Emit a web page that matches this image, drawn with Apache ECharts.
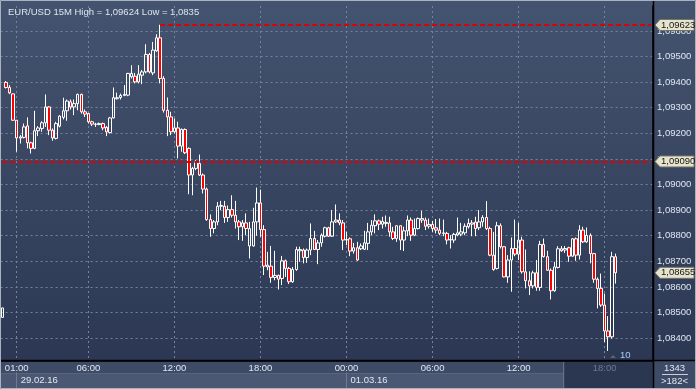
<!DOCTYPE html>
<html><head><meta charset="utf-8">
<script src="https://cdn.jsdelivr.net/npm/echarts@6/dist/echarts.min.js"></script>
<style>html,body{margin:0;padding:0;background:#34425e;}#c{width:696px;height:389px;}</style>
</head><body><div id="c"></div>
<script>
// ---------- data ----------
const chartTitle = 'EUR/USD 15M High = 1,09624 Low = 1,0835';
const startUTC = Date.UTC(2016, 1, 29, 0, 0);   // first bar: 29.02.16 00:00
const barMinutes = 15;
const visibleBars = 182;
const timeTicks = ['29.02 01:00','29.02 06:00','29.02 12:00','29.02 18:00','01.03 00:00','01.03 06:00','01.03 12:00','01.03 18:00'];
const dateTicks = ['29.02 01:00','01.03 00:00'];
const dateTickLabels = ['29.02.16','01.03.16'];
const dimTick = '01.03 18:00';
const highLineFrom = '29.02 11:00';
const highLineValue = 1.09623;
const levelLineValue = 1.09090;
const lastPrice = 1.08655;
const barsTotal = 1343;
const barsVisibleText = '>182<';
const cursorText = '10';

const opens = [1.08481,1.09399,1.09379,1.09354,1.09251,1.09181,1.09184,1.09229,1.09163,1.09141,
1.09210,1.09219,1.09241,1.09303,1.09212,1.09180,1.09228,1.09262,1.09288,1.09323,
1.09303,1.09316,1.09352,1.09284,1.09277,1.09245,1.09236,1.09234,1.09238,1.09223,
1.09203,1.09260,1.09335,1.09340,1.09348,1.09349,1.09421,1.09423,1.09401,1.09427,
1.09440,1.09508,1.09436,1.09522,1.09573,1.09414,1.09290,1.09264,1.09206,1.09221,
1.09150,1.09215,1.09141,1.09037,1.09063,1.09082,1.09037,1.08982,1.08863,1.08828,
1.08854,1.08915,1.08915,1.08871,1.08902,1.08880,1.08854,1.08835,1.08850,1.08760,
1.08760,1.08854,1.08928,1.08824,1.08678,1.08681,1.08637,1.08645,1.08633,1.08702,
1.08672,1.08620,1.08668,1.08741,1.08744,1.08715,1.08744,1.08789,1.08746,1.08772,
1.08798,1.08831,1.08798,1.08854,1.08861,1.08850,1.08783,1.08788,1.08740,1.08753,
1.08749,1.08747,1.08770,1.08815,1.08839,1.08858,1.08845,1.08848,1.08850,1.08815,
1.08789,1.08839,1.08783,1.08819,1.08861,1.08802,1.08828,1.08867,1.08861,1.08837,
1.08844,1.08831,1.08822,1.08809,1.08809,1.08783,1.08783,1.08803,1.08806,1.08811,
1.08835,1.08845,1.08853,1.08831,1.08854,1.08871,1.08828,1.08724,1.08672,1.08839,
1.08757,1.08639,1.08705,1.08750,1.08728,1.08783,1.08659,1.08624,1.08604,1.08655,
1.08598,1.08766,1.08718,1.08665,1.08585,1.08676,1.08749,1.08744,1.08753,1.08720,
1.08788,1.08724,1.08822,1.08776,1.08801,1.08730,1.08630,1.08594,1.08529,1.08428,
1.08405,1.08718];
const closes = [1.08518,1.09379,1.09358,1.09251,1.09182,1.09186,1.09225,1.09163,1.09141,1.09210,
1.09221,1.09241,1.09303,1.09212,1.09182,1.09238,1.09267,1.09288,1.09326,1.09303,
1.09316,1.09352,1.09284,1.09275,1.09245,1.09236,1.09235,1.09238,1.09221,1.09206,
1.09260,1.09339,1.09339,1.09348,1.09352,1.09434,1.09434,1.09401,1.09431,1.09440,
1.09508,1.09440,1.09525,1.09573,1.09414,1.09290,1.09264,1.09206,1.09221,1.09150,
1.09215,1.09124,1.09037,1.09063,1.09089,1.09037,1.08982,1.08863,1.08828,1.08854,
1.08915,1.08918,1.08871,1.08902,1.08880,1.08854,1.08835,1.08850,1.08828,1.08828,
1.08854,1.08928,1.08824,1.08681,1.08685,1.08637,1.08645,1.08630,1.08702,1.08672,
1.08620,1.08668,1.08746,1.08746,1.08715,1.08744,1.08789,1.08746,1.08772,1.08802,
1.08831,1.08798,1.08854,1.08861,1.08850,1.08783,1.08785,1.08740,1.08753,1.08705,
1.08760,1.08772,1.08815,1.08841,1.08858,1.08845,1.08856,1.08852,1.08815,1.08789,
1.08839,1.08783,1.08819,1.08861,1.08802,1.08828,1.08867,1.08861,1.08837,1.08844,
1.08828,1.08822,1.08809,1.08811,1.08783,1.08785,1.08805,1.08811,1.08815,1.08837,
1.08848,1.08850,1.08828,1.08854,1.08871,1.08828,1.08724,1.08668,1.08839,1.08757,
1.08639,1.08705,1.08750,1.08728,1.08783,1.08659,1.08624,1.08604,1.08655,1.08598,
1.08766,1.08718,1.08665,1.08585,1.08678,1.08749,1.08741,1.08750,1.08720,1.08788,
1.08724,1.08822,1.08776,1.08801,1.08730,1.08630,1.08594,1.08529,1.08428,1.08405,
1.08718,1.08655];
const lows = [1.08481,1.09375,1.09353,1.09249,1.09128,1.09160,1.09180,1.09141,1.09121,1.09138,
1.09189,1.09206,1.09225,1.09193,1.09171,1.09176,1.09223,1.09254,1.09249,1.09293,
1.09271,1.09290,1.09277,1.09264,1.09238,1.09228,1.09225,1.09232,1.09212,1.09189,
1.09199,1.09258,1.09332,1.09332,1.09345,1.09345,1.09414,1.09395,1.09395,1.09392,
1.09434,1.09434,1.09427,1.09518,1.09395,1.09281,1.09189,1.09193,1.09199,1.09102,
1.09128,1.09119,1.08962,1.08958,1.09056,1.09033,1.08965,1.08858,1.08796,1.08809,
1.08841,1.08900,1.08850,1.08854,1.08871,1.08828,1.08783,1.08780,1.08802,1.08711,
1.08757,1.08800,1.08796,1.08646,1.08665,1.08616,1.08626,1.08590,1.08607,1.08639,
1.08611,1.08616,1.08663,1.08698,1.08692,1.08694,1.08724,1.08744,1.08689,1.08757,
1.08793,1.08796,1.08796,1.08850,1.08841,1.08744,1.08763,1.08720,1.08730,1.08702,
1.08744,1.08744,1.08744,1.08802,1.08809,1.08822,1.08828,1.08835,1.08796,1.08783,
1.08776,1.08744,1.08740,1.08798,1.08780,1.08798,1.08824,1.08850,1.08822,1.08828,
1.08815,1.08809,1.08802,1.08798,1.08766,1.08750,1.08772,1.08798,1.08798,1.08802,
1.08828,1.08798,1.08798,1.08822,1.08835,1.08822,1.08720,1.08663,1.08668,1.08750,
1.08637,1.08616,1.08581,1.08720,1.08705,1.08652,1.08594,1.08568,1.08594,1.08585,
1.08585,1.08715,1.08663,1.08551,1.08581,1.08672,1.08737,1.08733,1.08698,1.08718,
1.08702,1.08707,1.08772,1.08772,1.08692,1.08616,1.08516,1.08522,1.08385,1.08350,
1.08398,1.08613];
const highs = [1.08518,1.09404,1.09388,1.09355,1.09251,1.09193,1.09238,1.09262,1.09167,1.09288,
1.09228,1.09247,1.09352,1.09306,1.09219,1.09245,1.09271,1.09339,1.09332,1.09332,
1.09332,1.09355,1.09355,1.09293,1.09280,1.09249,1.09241,1.09242,1.09242,1.09228,
1.09264,1.09379,1.09359,1.09355,1.09388,1.09436,1.09466,1.09436,1.09466,1.09447,
1.09548,1.09514,1.09557,1.09587,1.09624,1.09423,1.09340,1.09284,1.09258,1.09245,
1.09219,1.09219,1.09145,1.09069,1.09095,1.09117,1.09043,1.08988,1.08883,1.08861,
1.08932,1.08936,1.08936,1.08918,1.08958,1.08936,1.08861,1.08861,1.08887,1.08854,
1.08909,1.08988,1.08980,1.08841,1.08737,1.08760,1.08741,1.08648,1.08721,1.08707,
1.08678,1.08678,1.08757,1.08757,1.08750,1.08750,1.08848,1.08819,1.08783,1.08809,
1.08835,1.08835,1.08900,1.08922,1.08887,1.08861,1.08815,1.08793,1.08772,1.08776,
1.08770,1.08819,1.08850,1.08861,1.08883,1.08863,1.08874,1.08879,1.08874,1.08835,
1.08840,1.08840,1.08835,1.08879,1.08871,1.08867,1.08871,1.08897,1.08871,1.08867,
1.08858,1.08865,1.08867,1.08863,1.08815,1.08802,1.08811,1.08871,1.08850,1.08848,
1.08867,1.08861,1.08874,1.08900,1.08880,1.08935,1.08835,1.08815,1.08854,1.08848,
1.08759,1.08724,1.08793,1.08863,1.08850,1.08796,1.08746,1.08661,1.08663,1.08705,
1.08780,1.08789,1.08741,1.08672,1.08698,1.08759,1.08760,1.08760,1.08757,1.08790,
1.08793,1.08841,1.08835,1.08832,1.08809,1.08733,1.08637,1.08652,1.08574,1.08486,
1.08737,1.08730];

// ---------- build ----------
function pad(n){return (n<10?'0':'')+n;}
const categories = [];
for (let i = 0; i < visibleBars; i++) {
  const d = new Date(startUTC + i * barMinutes * 60000);
  categories.push(pad(d.getUTCDate())+'.'+pad(d.getUTCMonth()+1)+' '+pad(d.getUTCHours())+':'+pad(d.getUTCMinutes()));
}
const candles = opens.map((o, i) => [o, closes[i], lows[i], highs[i]]);
const fmt = v => v.toFixed(5).replace('.', ',');
const FONT = '"Liberation Sans",Arial,sans-serif';
const FS = 9.5;

const chart = echarts.init(document.getElementById('c'), null, {renderer: 'canvas'});
const W = 696, H = 389;
const gridLeft = 0.6, gridRight = 43, gridTop = 6, gridBottomPx = 360.5;
const pxPerPrice = 25600;          // vertical scale
const refPrice = 1.09, refY = 184.5;
const yMax = refPrice + (refY - gridTop) / pxPerPrice;
const yMin = refPrice - (gridBottomPx - refY) / pxPerPrice;
const firstCat = categories[0], lastCat = categories[visibleBars - 1];

const option = {
  animation: false,
  backgroundColor: new echarts.graphic.LinearGradient(0, 0, 0, 1, [
    {offset: 0, color: '#44536f'}, {offset: 1, color: '#2a3651'}]),
  title: {text: chartTitle, left: 3, top: 2,
    textStyle: {color: '#dfe5ee', fontSize: FS, fontWeight: 'normal', fontFamily: FONT}},
  grid: {left: gridLeft, right: gridRight, top: gridTop, height: gridBottomPx - gridTop},
  xAxis: [{
    type: 'category', data: categories, boundaryGap: true, position: 'bottom',
    axisLine: {show: true, lineStyle: {color: '#000000', width: 1.5}},
    axisTick: {show: false},
    axisLabel: {
      interval: (i, v) => timeTicks.indexOf(v) >= 0,
      formatter: (v) => v === dimTick ? '{dim|' + v.slice(6) + '}' : v.slice(6),
      color: '#e2e8f1', fontSize: FS, fontFamily: FONT, margin: 3,
      rich: {dim: {color: '#6c7891', fontSize: FS, fontFamily: FONT}}
    },
    splitLine: {show: true, interval: (i, v) => timeTicks.indexOf(v) >= 0, alignWithLabel: true,
      lineStyle: {color: '#7483a0', width: 1, type: [2, 3]}}
  }, {
    type: 'category', data: categories, boundaryGap: true, position: 'bottom', offset: 12,
    axisLine: {show: false},
    axisTick: {show: true, interval: (i, v) => dateTicks.indexOf(v) >= 0, alignWithLabel: true, length: 16,
      lineStyle: {color: '#6e7b94', width: 1}},
    axisLabel: {
      interval: (i, v) => dateTicks.indexOf(v) >= 0,
      formatter: (v) => dateTickLabels[dateTicks.indexOf(v)],
      align: 'left', padding: [0, 0, 0, 4],
      color: '#e2e8f1', fontSize: FS, fontFamily: FONT, margin: 3
    },
    splitLine: {show: false}
  }],
  yAxis: {
    type: 'value', position: 'right', min: yMin, max: yMax, scale: true,
    splitNumber: 14, minInterval: 0.001, maxInterval: 0.001,
    axisLine: {show: true, lineStyle: {color: '#000000', width: 1.5}},
    axisTick: {show: false},
    axisLabel: {formatter: fmt, color: '#dfe7f3', fontSize: FS, fontFamily: FONT, margin: 4,
      showMinLabel: false, showMaxLabel: false},
    splitLine: {show: true, showMinLine: false, showMaxLine: false,
      lineStyle: {color: '#7483a0', width: 1, type: [2, 3]}}
  },
  series: [{
    type: 'candlestick', data: candles, barWidth: 3, clip: true,
    itemStyle: {color: 'transparent', color0: '#ff0000', borderColor: '#ffffff', borderColor0: '#ffffff',
      borderColorDoji: '#ffffff', borderWidth: 1},
    markLine: {
      silent: true, symbol: 'none', animation: false,
      label: {show: false},
      lineStyle: {color: '#e00000', width: 2, type: [5, 3]},
      data: [
        [{coord: [highLineFrom, highLineValue]}, {coord: [lastCat, highLineValue]}],
        [{coord: [firstCat, levelLineValue]}, {coord: [lastCat, levelLineValue]}]
      ]
    }
  }]
};
chart.setOption(option);

// ---------- chrome: tags, bands, boxes ----------
const axisX = W - gridRight;
function tag(value) {
  const y = chart.convertToPixel({yAxisIndex: 0}, value);
  return [{
    type: 'polygon', z: 100,
    shape: {points: [[axisX + 2, y], [axisX + 7, y - 5.5], [W - 2, y - 5.5], [W - 2, y + 5.5], [axisX + 7, y + 5.5]]},
    style: {fill: '#e7e4cd', stroke: '#777466', lineWidth: 1}
  }, {
    type: 'text', z: 101, x: axisX + 8, y: y,
    style: {text: fmt(value), fill: '#151515', font: FS + 'px ' + FONT, textVerticalAlign: 'middle', textAlign: 'left'}
  }];
}
const dayCursorX = chart.convertToPixel({xAxisIndex: 0}, categories[157]) - 1.5;
const graphics = [
  // bottom time band
  {type: 'rect', z: -5, shape: {x: 0, y: 361, width: axisX, height: 12}, style: {fill: '#3d4b66'}},
  {type: 'rect', z: -5, shape: {x: 0, y: 373, width: axisX, height: 16}, style: {fill: '#4a5873'}},
  {type: 'line', z: -4, shape: {x1: 0, y1: 373.5, x2: axisX, y2: 373.5}, style: {stroke: '#56647e', lineWidth: 1}},
  {type: 'rect', z: -4, shape: {x: dayCursorX, y: 361.5, width: axisX - dayCursorX, height: 27.5}, style: {fill: '#2b3651'}},
  {type: 'line', z: -3, shape: {x1: dayCursorX, y1: 361, x2: dayCursorX, y2: 389}, style: {stroke: '#6e7890', lineWidth: 1}},
  // bottom-right info box
  {type: 'rect', z: -5, shape: {x: axisX, y: 361, width: W - axisX, height: 28}, style: {fill: '#3d4b66'}},
  {type: 'text', z: 50, x: (axisX + W) / 2, y: 368, style: {text: String(barsTotal), fill: '#e2e8f1', font: FS + 'px ' + FONT, textAlign: 'center', textVerticalAlign: 'middle'}},
  {type: 'line', z: 50, shape: {x1: axisX + 9, y1: 374.5, x2: W - 8, y2: 374.5}, style: {stroke: '#c8d0dc', lineWidth: 1}},
  {type: 'text', z: 50, x: (axisX + W) / 2, y: 381, style: {text: barsVisibleText, fill: '#e2e8f1', font: FS + 'px ' + FONT, textAlign: 'center', textVerticalAlign: 'middle'}},
  // right axis divider through full height
  {type: 'line', z: 60, shape: {x1: axisX + 0.5, y1: 0, x2: axisX + 0.5, y2: H}, style: {stroke: '#000000', lineWidth: 1.5}},
  {type: 'line', z: 60, shape: {x1: 0, y1: 360.5, x2: W, y2: 360.5}, style: {stroke: '#000000', lineWidth: 1.5}},
  // cursor marker
  {type: 'polygon', z: 50, shape: {points: [[610, 358], [613, 355], [616, 358]]}, style: {fill: '#5b6378'}},
  {type: 'text', z: 50, x: 620, y: 355, style: {text: cursorText, fill: '#a9cdf5', font: FS + 'px ' + FONT, textVerticalAlign: 'middle'}},
  // outer frame
  {type: 'rect', z: 200, shape: {x: 0.5, y: 0.5, width: W - 1, height: H - 1}, style: {fill: 'none', stroke: '#aab2bf', lineWidth: 1}}
].concat(tag(highLineValue), tag(levelLineValue), tag(lastPrice));
chart.setOption({graphic: graphics});
</script></body></html>
